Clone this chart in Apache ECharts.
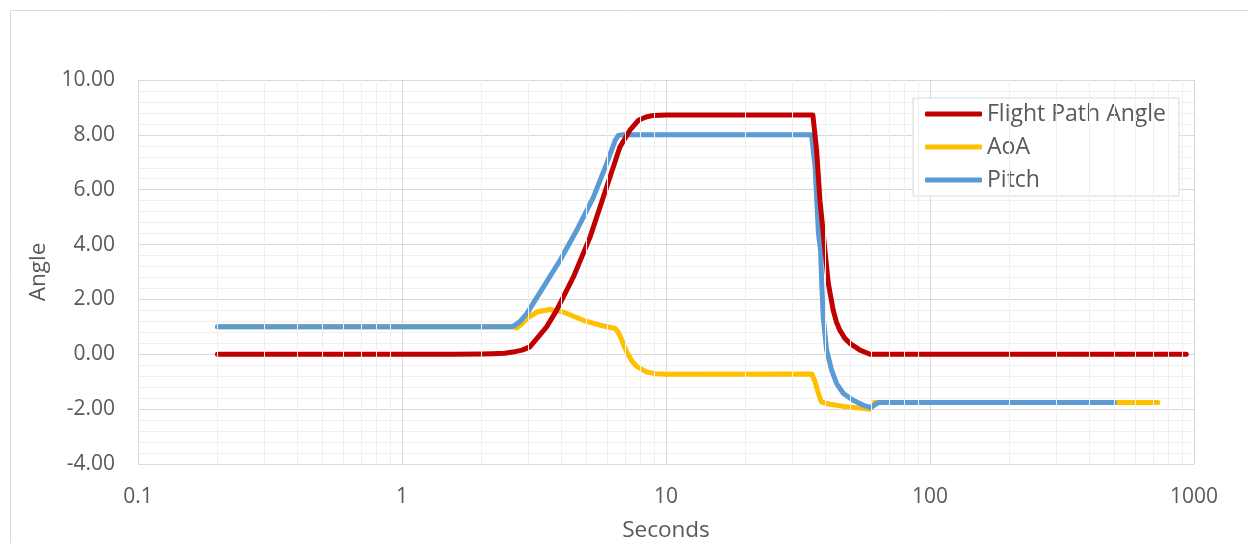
<!DOCTYPE html>
<html>
<head>
<meta charset="utf-8">
<script src="https://cdn.jsdelivr.net/npm/echarts@6/dist/echarts.min.js"></script>
<style>
html,body{margin:0;padding:0;background:#fff;}
#chart{width:1248px;height:543px;}
</style>
</head>
<body>
<div id="chart"></div>
<script>
// ---- data ----
const seriesNames = ['Flight Path Angle', 'AoA', 'Pitch'];

const fpaX = [0.2, 1, 1.6, 2.0, 2.2, 2.45, 2.63, 2.85, 3.05, 3.24, 3.53, 3.85, 4.46, 5.16, 5.96, 6.69, 7.3, 7.86, 8.4, 8.96, 10, 20, 36.0, 37.2, 38.3, 40.0, 41.2, 43.0, 44.2, 45.6, 47.6, 49.9, 54.3, 59.3, 100, 935];
const fpaY = [0, 0, 0, 0.01, 0.02, 0.04, 0.08, 0.15, 0.27, 0.57, 1.0, 1.6, 2.82, 4.28, 6.1, 7.56, 8.17, 8.53, 8.65, 8.71, 8.72, 8.72, 8.72, 7.44, 5.61, 3.79, 2.58, 1.6, 1.18, 0.87, 0.58, 0.39, 0.15, 0.0, 0, 0];

const aoaX = [0.2, 2.62, 2.72, 2.8, 2.97, 3.24, 3.63, 4.08, 4.86, 5.63, 6.42, 6.59, 6.75, 6.9, 7.1, 7.4, 7.74, 8.45, 9.2, 10, 35.7, 36.1, 36.7, 37.8, 38.8, 41.8, 47.0, 54.3, 59.3, 61.5, 730];
const aoaY = [1.0, 1.0, 0.96, 1.05, 1.3, 1.54, 1.63, 1.54, 1.24, 1.06, 0.94, 0.81, 0.6, 0.35, 0.08, -0.22, -0.44, -0.65, -0.71, -0.73, -0.72, -0.75, -1.0, -1.43, -1.74, -1.82, -1.9, -1.96, -2.0, -1.76, -1.76];

const pitchX = [0.2, 2.6, 2.68, 2.8, 2.97, 3.43, 3.97, 4.59, 5.31, 5.96, 6.42, 6.6, 6.8, 35.6, 36.7, 37.8, 38.5, 38.9, 39.4, 40.6, 42.4, 44.3, 47.0, 51.2, 55.9, 59.7, 63.7, 500];
const pitchY = [1.0, 1.0, 1.06, 1.2, 1.48, 2.45, 3.43, 4.52, 5.73, 6.95, 7.8, 7.98, 8.0, 8.0, 6.83, 4.4, 3.79, 2.58, 1.36, 0.15, -0.58, -1.07, -1.43, -1.68, -1.86, -1.94, -1.76, -1.76];

const xMin = 0.1, xMax = 1000;
const yMin = -4, yMax = 10, yInterval = 2;
const xMinorGrid = [0.2,0.3,0.4,0.5,0.6,0.7,0.8,0.9, 2,3,4,5,6,7,8,9, 20,30,40,50,60,70,80,90, 200,300,400,500,600,700,800,900];

const colors = ['#C00000', '#FFC000', '#5B9BD5'];

function zip(xs, ys){ return xs.map((x,i)=>[x, ys[i]]); }

const textColor = '#595959';
const font = '"Open Sans", "Noto Sans", sans-serif';

const chart = echarts.init(document.getElementById('chart'), null, {renderer:'canvas'});

function lineSeries(name, xs, ys, color, z){
  return {
    name: name, type: 'line', data: zip(xs, ys), z: z,
    showSymbol: false, symbol: 'none', smooth: false,
    lineStyle: {color: color, width: 5, cap: 'round', join: 'round'},
    itemStyle: {color: color},
    emphasis: {disabled: true},
    animation: false
  };
}

const option = {
  animation: false,
  backgroundColor: '#fff',
  graphic: [{
    type: 'rect', shape: {x: 10.5, y: 10.5, width: 1300, height: 600},
    style: {fill: 'none', stroke: '#d9d9d9', lineWidth: 1}, silent: true, z: -10
  }],
  grid: {left: 138, right: 54, top: 80, bottom: 79, containLabel: false, outerBoundsMode: 'none'},
  legend: {
    data: seriesNames,
    orient: 'vertical',
    left: 913, top: 98,
    padding: [4, 13, 4, 12],
    itemGap: 9,
    itemWidth: 57, itemHeight: 5,
    icon: 'roundRect',
    backgroundColor: '#fff',
    borderColor: '#d9d9d9', borderWidth: 1,
    textStyle: {color: textColor, fontSize: 23, fontFamily: font, lineHeight: 24},
    selectedMode: false
  },
  xAxis: {
    type: 'log', logBase: 10, min: xMin, max: xMax,
    name: 'Seconds', nameLocation: 'middle', nameGap: 55,
    nameTextStyle: {color: textColor, fontSize: 22.5, fontFamily: font},
    axisLine: {show: false, onZero: false},
    axisTick: {show: false},
    axisLabel: {color: textColor, fontSize: 21, fontFamily: font, margin: 23,
      formatter: v => String(Number(v.toPrecision(6)))},
    splitLine: {show: true, lineStyle: {color: '#d9d9d9', width: 1}},
    minorTick: {show: false}
  },
  yAxis: {
    type: 'value', min: yMin, max: yMax, interval: yInterval,
    name: 'Angle', nameLocation: 'middle', nameGap: 88, nameRotate: 90,
    nameTextStyle: {color: textColor, fontSize: 22.5, fontFamily: font},
    axisLine: {show: false},
    axisTick: {show: false},
    axisLabel: {color: textColor, fontSize: 21, fontFamily: font, margin: 23,
      formatter: v => v.toFixed(2)},
    splitLine: {show: true, lineStyle: {color: '#d9d9d9', width: 1}},
    minorTick: {show: false, splitNumber: 5},
    minorSplitLine: {show: true, lineStyle: {color: '#efefef', width: 1}}
  },
  series: [
    {
      name: '__grid', type: 'line', data: [], z: 1, silent: true,
      markLine: {
        silent: true, symbol: ['none','none'], label: {show: false},
        lineStyle: {color: '#efefef', width: 1, type: 'solid'},
        emphasis: {disabled: true},
        data: xMinorGrid.map(v => ({xAxis: v}))
      }
    },
    lineSeries(seriesNames[1], aoaX, aoaY, colors[1], 2),
    lineSeries(seriesNames[2], pitchX, pitchY, colors[2], 3),
    lineSeries(seriesNames[0], fpaX, fpaY, colors[0], 4)
  ]
};
chart.setOption(option);
</script>
</body>
</html>
